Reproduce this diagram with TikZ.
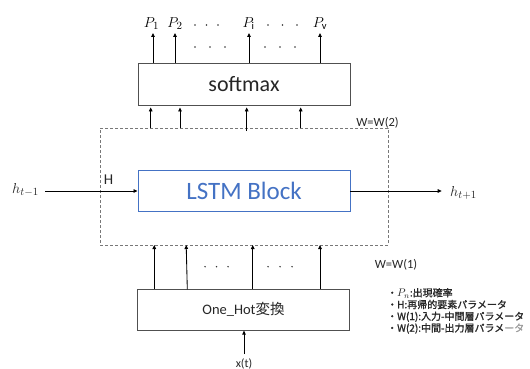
\documentclass[tikz,border=0pt]{standalone}
\usepackage{fontspec}
\setmainfont{Carlito}
\newfontfamily\jp{Noto Sans CJK JP}[AutoFakeBold=1.2]
\usetikzlibrary{arrows.meta,calc}
\definecolor{lstmblue}{RGB}{68,114,196}
\definecolor{boxgray}{RGB}{80,80,80}
\definecolor{dashgray}{RGB}{120,120,120}
\begin{document}
\begin{tikzpicture}[x=1pt,y=-1pt,
  box/.style={draw=boxgray, line width=0.9pt, rectangle, inner sep=0pt, text=black!85},
  lstmbox/.style={draw=lstmblue, line width=0.9pt, rectangle, inner sep=0pt, text=lstmblue},
  dashbox/.style={draw=dashgray, line width=0.9pt, dash pattern=on 3pt off 2pt, rectangle, inner sep=0pt},
  arr/.style={draw=black, line width=0.85pt, -{Triangle[length=4pt,width=3.6pt]}},
  plabel/.style={anchor=south, inner sep=0pt, font=\fontsize{15}{18}\selectfont},
  txt/.style={inner sep=0pt, text=black!85},
  leg/.style={anchor=base west, inner sep=0pt, font=\jp\bfseries\fontsize{10}{12}\selectfont, text=black!85},
  dot/.style={fill=black!80, circle, inner sep=0pt, minimum size=1.6pt}
]
\useasboundingbox (0,0) rectangle (530,369);

% dashed parameter box
\node[dashbox, minimum width=288pt, minimum height=117pt] (dash) at (244,186.5) {};

% main boxes
\node[box, minimum width=212pt, minimum height=42pt, font=\fontsize{22}{26}\selectfont] (softmax) at (244,84) {softmax};
\node[lstmbox, minimum width=212pt, minimum height=41pt, font=\fontsize{25}{30}\selectfont] (lstm) at (244,191) {LSTM Block};
\node[box, minimum width=212pt, minimum height=41pt, font=\fontsize{14.5}{17}\selectfont] (onehot) at (243.5,309.7) {One\_Hot{\jp 変換}};

% output labels
\node[plabel] (p1) at (151.5,29.5) {$P_1$};
\node[plabel] (p2) at (175,29.5) {$P_2$};
\node[plabel] (pi) at (248.5,29.5) {$P_{\mathrm{i}}$};
\node[plabel] (pv) at (320,29.5) {$P_{\mathrm{v}}$};
\coordinate (t1) at (153,33);
\coordinate (t2) at (175,33);
\coordinate (t3) at (249,33);
\coordinate (t4) at (320,33);
\foreach \t in {t1,t2,t3,t4}
  \draw[arr] (softmax.north -| \t) -- (\t);

% dots
\foreach \x in {195,206.5,218,268,282.5,297} \node[dot] at (\x,25) {};
\foreach \x in {195,210,225,265,280,295} \node[dot] at (\x,47) {};
\foreach \x in {205,216.5,228,268,280,292} \node[dot] at (\x,266.7) {};

% dashed box -> softmax
\coordinate (u1) at (150.7,128);
\coordinate (u2) at (180,128);
\coordinate (u3) at (246.7,131);
\coordinate (u4) at (300.7,128);
\foreach \u in {u1,u2,u3,u4}
  \draw[arr, shorten >=2pt] (\u) -- (softmax.south -| \u);

% one-hot -> dashed box
\coordinate (b1) at (154.3,245);
\coordinate (b2) at (186.2,245);
\coordinate (b3) at (252.7,245);
\coordinate (b4) at (320,245);
\draw[arr] (onehot.north -| b1) -- (b1);
\draw[arr] (187.3,289.3) -- (b2);
\draw[arr] (onehot.north -| b3) -- (b3);
\draw[arr] (onehot.north -| b4) -- (b4);

% recurrent in / out
\node[txt, anchor=east, font=\fontsize{15}{18}\selectfont] (hin) at (39,190) {$h_{t-1}$};
\draw[arr] (lstm.west -| hin.east) ++(6,0) coordinate (hs) (hs) -- (lstm.west);
\node[txt, anchor=west, font=\fontsize{15}{18}\selectfont] (hout) at (450,193) {$h_{t+1}$};
\draw[arr] (lstm.east) -- (441.7,191) coordinate (he);

% input
\node[txt, font=\fontsize{12}{14}\selectfont] (xt) at (244,363.5) {x(t)};
\draw[arr, shorten <=4pt] (xt.north) -- (onehot.south -| xt.north);

% labels
\node[txt, font=\fontsize{15}{18}\selectfont] (hlab) at (108.5,180) {H};
\node[txt, font=\fontsize{12.5}{15}\selectfont] (w2) at (377.5,122.5) {W=W(2)};
\node[txt, font=\fontsize{12.5}{15}\selectfont] (w1) at (396,264.5) {W=W(1)};

% legend
\node[leg] (l1) at (387,296.5) {・{\fontsize{11}{12}\selectfont$P_n$}:出現確率};
\node[leg] (l2) at (387,308.3) {・H:再帰的要素パラメータ};
\node[leg] (l3) at (387,320) {・W(1):入力-中間層パラメータ};
\node[leg] (l4) at (387,331.7) {・W(2):中間-出力層パラメ{\color{black!40}ータ}};
\end{tikzpicture}
\end{document}
